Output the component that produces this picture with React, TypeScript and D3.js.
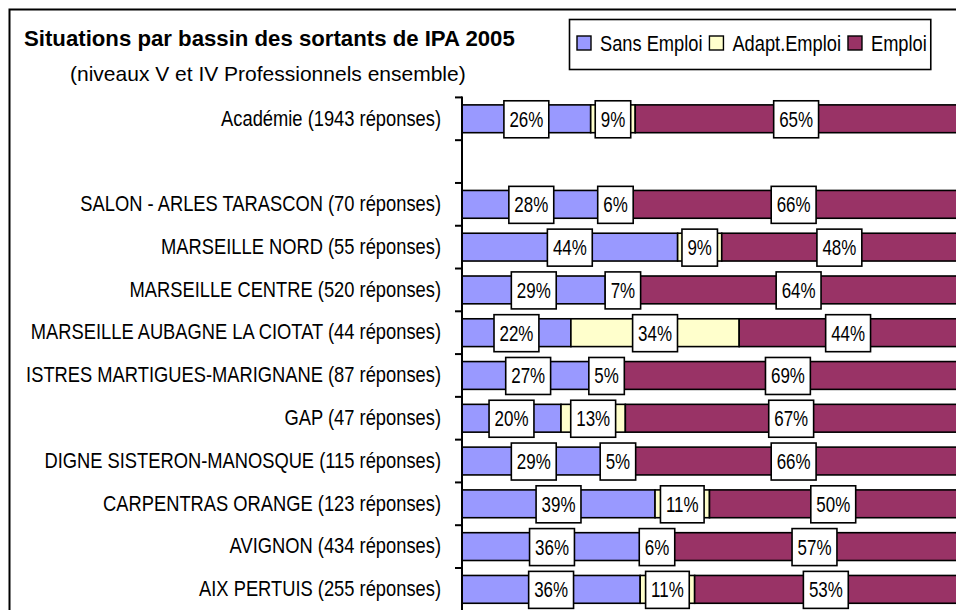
import React, { useEffect, useRef } from "react";
import * as d3 from "d3";

const categories = [
  "Académie (1943 réponses)",
  "",
  "SALON - ARLES TARASCON (70 réponses)",
  "MARSEILLE NORD (55 réponses)",
  "MARSEILLE CENTRE (520 réponses)",
  "MARSEILLE AUBAGNE LA CIOTAT (44 réponses)",
  "ISTRES MARTIGUES-MARIGNANE (87 réponses)",
  "GAP (47 réponses)",
  "DIGNE SISTERON-MANOSQUE (115 réponses)",
  "CARPENTRAS ORANGE (123 réponses)",
  "AVIGNON (434 réponses)",
  "AIX PERTUIS (255 réponses)",
];
const sansEmploi = [26, null, 28, 44, 29, 22, 27, 20, 29, 39, 36, 36];
const adaptEmploi = [9, null, 6, 9, 7, 34, 5, 13, 5, 11, 6, 11];
const emploi = [65, null, 66, 48, 64, 44, 69, 67, 66, 50, 57, 53];

const seriesNames = ["Sans Emploi", "Adapt.Emploi", "Emploi"];
const seriesColors = ["#9999FF", "#FFFFCC", "#993366"];

const title = "Situations par bassin des sortants de IPA 2005";
const subtitle = "(niveaux V et IV Professionnels ensemble)";

const FONT = "'Liberation Sans', Arial, Helvetica, sans-serif";

export default function App() {
  const ref = useRef<SVGSVGElement | null>(null);

  useEffect(() => {
    const svg = d3.select(ref.current);
    svg.selectAll("*").remove();

    const H = 610;
    const axisX = 462;
    const top = 97.4;
    const step = 42.78;

    // outer frame (cropped on right / bottom)
    svg
      .append("rect")
      .attr("x", 9.5)
      .attr("y", 9.5)
      .attr("width", 1200)
      .attr("height", 1200)
      .attr("fill", "white")
      .attr("stroke", "black")
      .attr("stroke-width", 2);

    // titles
    svg
      .append("text")
      .attr("x", 24)
      .attr("y", 45.5)
      .attr("font-family", FONT)
      .attr("font-weight", "bold")
      .attr("font-size", 22.2)
      .attr("fill", "black")
      .text(title);
    svg
      .append("text")
      .attr("x", 70)
      .attr("y", 81)
      .attr("font-family", FONT)
      .attr("font-size", 21)
      .attr("fill", "black")
      .text(subtitle);

    const idx = categories.map((_, i) => String(i));
    const yTicks = d3
      .scaleBand<string>()
      .domain(idx)
      .range([top, top + step * categories.length])
      .paddingInner(0)
      .paddingOuter(0);
    const yBars = d3
      .scaleBand<string>()
      .domain(idx)
      .range([top, top + step * categories.length])
      .paddingInner(0.35)
      .paddingOuter(0.175);

    const x = d3.scaleLinear().domain([0, 100]).range([axisX, axisX + 495]);

    const rows = categories.map((c, i) => ({
      i: String(i),
      c,
      vals: [sansEmploi[i], adaptEmploi[i], emploi[i]],
    }));

    // bars (100% stacked: normalised by row total)
    const g = svg.append("g");
    rows.forEach((r) => {
      if (r.vals[0] == null) return;
      const tot = d3.sum(r.vals as number[]);
      let acc = 0;
      r.vals.forEach((v, k) => {
        const val = ((v as number) / tot) * 100;
        g.append("rect")
          .attr("x", x(acc))
          .attr("y", yBars(r.i)!)
          .attr("width", x(acc + val) - x(acc))
          .attr("height", yBars.bandwidth())
          .attr("fill", seriesColors[k])
          .attr("stroke", "black")
          .attr("stroke-width", 1.6);
        acc += val;
      });
    });

    // axis
    svg
      .append("line")
      .attr("x1", axisX)
      .attr("x2", axisX)
      .attr("y1", top - 1)
      .attr("y2", H + 5)
      .attr("stroke", "black")
      .attr("stroke-width", 2);
    const tickYs = categories.map((_, i) => yTicks(String(i))!);
    svg
      .selectAll("line.tick")
      .data(tickYs)
      .enter()
      .append("line")
      .attr("class", "tick")
      .attr("x1", axisX - 7)
      .attr("x2", axisX)
      .attr("y1", (d) => d)
      .attr("y2", (d) => d)
      .attr("stroke", "black")
      .attr("stroke-width", 2);

    // category labels
    const catSize = 21.5;
    const catSx = 0.852;
    rows.forEach((r) => {
      if (!r.c) return;
      const cy = yTicks(r.i)! + yTicks.bandwidth() / 2;
      svg
        .append("text")
        .attr("transform", `translate(441,${cy - 1}) scale(${catSx},1)`)
        .attr("text-anchor", "end")
        .attr("dy", "0.36em")
        .attr("font-family", FONT)
        .attr("font-size", catSize)
        .attr("fill", "black")
        .text(r.c);
    });

    // percent labels
    const pSize = 22;
    const pSx = 0.77;
    const lg = svg.append("g");
    rows.forEach((r) => {
      if (r.vals[0] == null) return;
      const tot = d3.sum(r.vals as number[]);
      let acc = 0;
      const cy = yBars(r.i)! + yBars.bandwidth() / 2;
      r.vals.forEach((v) => {
        const val = v as number;
        const share = (val / tot) * 100;
        const cx = x(acc + share / 2);
        acc += share;
        const grp = lg.append("g");
        const rect = grp.append("rect");
        const t = grp
          .append("text")
          .attr("transform", `translate(${cx},${cy}) scale(${pSx},1)`)
          .attr("text-anchor", "middle")
          .attr("dy", "0.36em")
          .attr("font-family", FONT)
          .attr("font-size", pSize)
          .attr("fill", "black")
          .text(`${val}%`);
        const tw = (t.node() as SVGTextElement).getComputedTextLength() * pSx;
        const bw = tw + 11;
        const bh = 37;
        rect
          .attr("x", cx - bw / 2)
          .attr("y", cy - bh / 2 + 0.5)
          .attr("width", bw)
          .attr("height", bh)
          .attr("fill", "white")
          .attr("stroke", "black")
          .attr("stroke-width", 1.6);
      });
    });

    // legend
    const legX = 569.5;
    const legY = 19.5;
    const legend = svg.append("g");
    const legRect = legend
      .append("rect")
      .attr("x", legX)
      .attr("y", legY)
      .attr("height", 50)
      .attr("fill", "white")
      .attr("stroke", "black")
      .attr("stroke-width", 1.6);
    const lSize = 22;
    const lSx = 0.83;
    let lx = 577;
    seriesNames.forEach((name, k) => {
      legend
        .append("rect")
        .attr("x", lx)
        .attr("y", 36)
        .attr("width", 14)
        .attr("height", 14)
        .attr("fill", seriesColors[k])
        .attr("stroke", "black")
        .attr("stroke-width", 1.4);
      const tx = lx + 23;
      const t = legend
        .append("text")
        .attr("transform", `translate(${tx},51) scale(${lSx},1)`)
        .attr("font-family", FONT)
        .attr("font-size", lSize)
        .attr("fill", "black")
        .text(name);
      const tw = (t.node() as SVGTextElement).getComputedTextLength() * lSx;
      lx = tx + tw + 7;
    });
    legRect.attr("width", lx - legX - 3);
  }, []);

  return (
    <svg
      ref={ref}
      width={956}
      height={610}
      style={{ position: "absolute", left: 0, top: 0, background: "white" }}
    />
  );
}
